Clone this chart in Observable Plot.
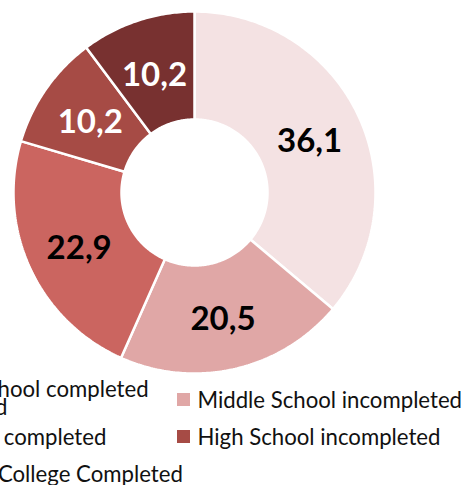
<!DOCTYPE html>
<html>
<head>
<meta charset="utf-8">
<script src="https://cdn.jsdelivr.net/npm/d3@7"></script>
<script src="https://cdn.jsdelivr.net/npm/@observablehq/plot@0.6"></script>
<style>
  html, body { margin: 0; padding: 0; background: #fff; }
  #chart svg { display: block; }
</style>
</head>
<body>
<div id="chart"></div>
<script>
// ---- data ----
const categories = [
  "Elementary School completed",
  "Middle School incompleted",
  "Middle School completed",
  "High School incompleted",
  "High School / College Completed"
];
const values = [36.1, 20.5, 22.9, 10.2, 10.2];
const valueLabels = ["36,1", "20,5", "22,9", "10,2", "10,2"];
const colors = ["#F4E2E3", "#E0A7A6", "#CB6560", "#A64B45", "#783130"];
const labelColors = ["#000", "#000", "#000", "#fff", "#fff"];

// ---- layout ----
const W = 465, H = 485;
const cx = 194, cy = 192, R = 181, Rin = 73;
const inner = Rin / R;
const ux = px => (px - cx) / R;
const uy = py => (cy - py) / R;

// slice outlines from pie angles
const pie = d3.pie().sort(null).value(d => d)(values);
const slicePts = pie.flatMap((p, i) => {
  const n = Math.max(8, Math.ceil((p.endAngle - p.startAngle) * 80));
  const pts = [];
  for (let k = 0; k <= n; k++) {
    const a = p.startAngle + (p.endAngle - p.startAngle) * k / n;
    pts.push({cat: categories[i], x: Math.sin(a), y: Math.cos(a)});
  }
  for (let k = n; k >= 0; k--) {
    const a = p.startAngle + (p.endAngle - p.startAngle) * k / n;
    pts.push({cat: categories[i], x: inner * Math.sin(a), y: inner * Math.cos(a)});
  }
  pts.push({...pts[0]});
  return pts;
});

const labelRho = (1 + inner) / 2;
const sliceLabels = pie.map((p, i) => {
  const a = (p.startAngle + p.endAngle) / 2;
  return {text: valueLabels[i], x: labelRho * Math.sin(a), y: labelRho * Math.cos(a), color: labelColors[i]};
});

// legend: right column (items 1,3), left column (items 0,2,4) partially cropped
const legendSwatches = [
  {cat: categories[1], x1: ux(177), x2: ux(190), y1: uy(393), y2: uy(406)},
  {cat: categories[3], x1: ux(177), x2: ux(190), y1: uy(430), y2: uy(443)}
];
const leftStart = -141;
const legendTextStart = [
  {text: categories[1], x: ux(197), y: uy(400)},
  {text: categories[3], x: ux(197), y: uy(437)},
  {text: categories[0], x: ux(leftStart), y: uy(389)},
  {text: categories[2], x: ux(leftStart), y: uy(437)},
  {text: categories[4], x: ux(leftStart), y: uy(474)}
];
const legendTextEnd = [
  {text: "or never attended", x: ux(7), y: uy(407)}
];

const plot = Plot.plot({
  width: W,
  height: H,
  margin: 0,
  x: {domain: [-1, 1], range: [cx - R, cx + R], axis: null},
  y: {domain: [-1, 1], range: [cy + R, cy - R], axis: null},
  color: {domain: categories, range: colors},
  style: {background: "#fff"},
  marks: [
    Plot.line(slicePts, {x: "x", y: "y", z: "cat", fill: "cat", stroke: "white", strokeWidth: 2.5, strokeLinejoin: "miter"}),
    Plot.text(sliceLabels, {x: "x", y: "y", text: "text", fill: "color", fontSize: 33, fontWeight: "bold", fontFamily: "Lato", dy: 3}),
    Plot.rect(legendSwatches, {x1: "x1", x2: "x2", y1: "y1", y2: "y2", fill: "cat"}),
    Plot.text(legendTextStart, {x: "x", y: "y", text: "text", textAnchor: "start", fontSize: 22.2, fontFamily: "Lato", fill: "#111"}),
    Plot.text(legendTextEnd, {x: "x", y: "y", text: "text", textAnchor: "end", fontSize: 22.2, fontFamily: "Lato", fill: "#111"})
  ]
});
document.getElementById("chart").appendChild(plot);
</script>
</body>
</html>
